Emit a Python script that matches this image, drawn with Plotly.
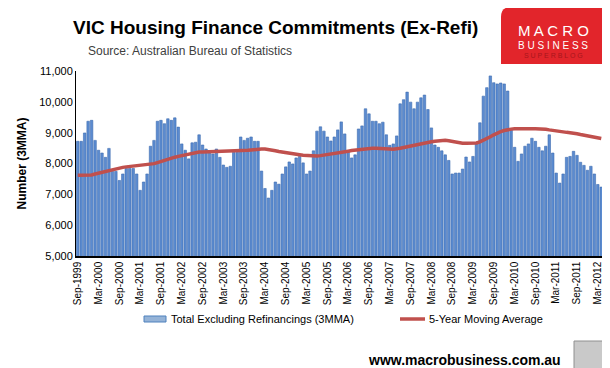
import plotly.graph_objects as go
import pandas as pd

# ---- data ----
months = pd.date_range("1999-09-01", periods=152, freq="MS").strftime("%b-%Y").tolist()

tick_labels = ["Sep-1999", "Mar-2000", "Sep-2000", "Mar-2001", "Sep-2001", "Mar-2002",
               "Sep-2002", "Mar-2003", "Sep-2003", "Mar-2004", "Sep-2004", "Mar-2005",
               "Sep-2005", "Mar-2006", "Sep-2006", "Mar-2007", "Sep-2007", "Mar-2008",
               "Sep-2008", "Mar-2009", "Sep-2009", "Mar-2010", "Sep-2010", "Mar-2011",
               "Sep-2011", "Mar-2012"]

total_ex_refi = [
    8720, 8720, 8990, 9370, 9400, 8750, 8430, 8340, 8200, 8490,
    7745, 7745, 7450, 7660, 7840, 7840, 7840, 7660, 7130, 7400,
    7660, 8560, 8750, 9370, 9400, 9290, 9450, 9400, 9480, 9180,
    8635, 8430, 8150, 8670, 8690, 8930, 8600, 8470, 8365, 8310,
    8470, 8200, 7950, 7875, 7910, 8365, 8365, 8860, 8750, 8820,
    8860, 8720, 8720, 7755, 7190, 6880, 7130, 7400, 7330, 7660,
    7890, 8050, 7985, 8180, 8230, 8020, 7660, 7755, 8410, 9050,
    9190, 9050, 8860, 8730, 8860, 9090, 9350, 8960, 8410, 8180,
    8280, 9120, 9220, 9775, 9610, 9370, 9370, 9290, 9340, 8930,
    8590, 8635, 8895, 9935, 10070, 10315, 9990, 9775, 9990, 10130,
    10220, 9750, 9155, 8600, 8525, 8410, 8280, 8100, 7660, 7690,
    7690, 7820, 8210, 8050, 8230, 8635, 9320, 10185, 10460, 10840,
    10620, 10580, 10610, 10580, 10350, 9100, 8525, 8070, 8310, 8560,
    8635, 8820, 8720, 8525, 8410, 8560, 8930, 8340, 7690, 7365,
    7660, 8200, 8230, 8395, 8265, 8040, 7940, 7780, 7910, 7660,
    7320, 7235,
]

ma_5yr = [
    7615, 7615, 7615, 7618, 7630, 7660, 7690, 7720, 7750, 7785,
    7810, 7830, 7855, 7875, 7890, 7900, 7910, 7920, 7930, 7945,
    7960, 7975, 7995, 8030, 8070, 8105, 8140, 8175, 8205, 8230,
    8255, 8280, 8310, 8335, 8355, 8370, 8375, 8378, 8385, 8392,
    8395, 8395, 8395, 8395, 8395, 8395, 8398, 8405, 8415, 8428,
    8440, 8455, 8468, 8472, 8470, 8460, 8440, 8415, 8390, 8368,
    8345, 8330, 8315, 8300, 8285, 8270, 8258, 8245, 8235, 8240,
    8255, 8270, 8290, 8310, 8335, 8350, 8370, 8385, 8400, 8420,
    8435, 8450, 8465, 8478, 8490, 8495, 8495, 8495, 8495, 8490,
    8470, 8460, 8470, 8495, 8520, 8545, 8570, 8595, 8620, 8650,
    8670, 8690, 8705, 8720, 8735, 8750, 8755, 8740, 8715, 8690,
    8670, 8660, 8655, 8655, 8660, 8665, 8700, 8745, 8805, 8865,
    8930, 8990, 9035, 9070, 9100, 9115, 9125, 9130, 9135, 9135,
    9130, 9125, 9125, 9125, 9120, 9110, 9090, 9070, 9055, 9040,
    9025, 9010, 9000, 8990, 8965, 8940, 8915, 8895, 8875, 8860,
    8835, 8810,
]

series_names = ["Total Excluding Refinancings (3MMA)", "5-Year Moving Average"]

FONT = "Liberation Sans, Arial, sans-serif"
BAR_COLOR = "#5b8bd0"
BAR_EDGE = "#3e6cb0"
LINE_COLOR = "#c0504d"

fig = go.Figure()
fig.add_trace(go.Bar(
    x=months, y=total_ex_refi, name=series_names[0],
    marker=dict(color=BAR_COLOR, line=dict(color=BAR_EDGE, width=0.6)),
))
fig.add_trace(go.Scatter(
    x=months, y=ma_5yr, mode="lines", name=series_names[1],
    line=dict(color=LINE_COLOR, width=3.5),
))

# plot area: x 68..595, y 63..248 px  -> helpers converting page px to paper fractions
def px(xp):
    return (xp - 68) / 527.0

def py(yp):
    return (248 - yp) / 185.0

logo_path = ("M {a},{b} L {a},{c} Q {a},{d} {e},{d} L {f},{d} L {f},{b} Z"
             .format(a=px(493), b=py(56), c=py(9), d=py(-1), e=px(503), f=px(612)))

fig.update_layout(
    width=610, height=368,
    margin=dict(l=68, r=15, t=63, b=120),
    paper_bgcolor="white", plot_bgcolor="white",
    font=dict(family=FONT, color="black", size=11),
    bargap=0.28,
    showlegend=False,
    xaxis=dict(type="category", tickmode="array", tickvals=tick_labels, ticktext=tick_labels,
               tickangle=-90, tickfont=dict(size=10, family=FONT), showline=True,
               linecolor="black", linewidth=1.5, ticks="", showgrid=False, zeroline=False),
    yaxis=dict(range=[5000, 11000], dtick=1000, tickformat=",", showline=True,
               linecolor="black", linewidth=1, ticks="", showgrid=False, zeroline=False,
               tickfont=dict(size=11, family=FONT),
               title=dict(text="<b>Number (3MMA)</b>", font=dict(size=12, family=FONT), standoff=9)),
    shapes=[
        # Macro Business badge
        dict(type="path", xref="paper", yref="paper", path=logo_path,
             fillcolor="#e2252b", line=dict(width=0), layer="above"),
        # legend swatches
        dict(type="rect", xref="paper", yref="paper", x0=px(136), x1=px(158), y0=py(314), y1=py(308),
             fillcolor="#95b3d7", line=dict(color="#4f81bd", width=1), layer="above"),
        dict(type="line", xref="paper", yref="paper", x0=px(392), x1=px(417), y0=py(311), y1=py(311),
             line=dict(color=LINE_COLOR, width=3.5), layer="above"),
        # wolf badge placeholder
        dict(type="rect", xref="paper", yref="paper", x0=px(566), x1=px(597), y0=py(364), y1=py(333),
             fillcolor="#c9c9c9", line=dict(color="#909090", width=1), layer="above"),
    ],
    annotations=[
        dict(text="<b>VIC Housing Finance Commitments (Ex-Refi)</b>", xref="paper", yref="paper",
             x=px(267), y=py(19), xanchor="center", yanchor="middle", showarrow=False,
             font=dict(size=19, family=FONT, color="black")),
        dict(text="Source: Australian Bureau of Statistics", xref="paper", yref="paper",
             x=px(78), y=py(43), xanchor="left", yanchor="middle", showarrow=False,
             font=dict(size=12, family=FONT, color="#404040")),
        dict(text="M A C R O", xref="paper", yref="paper",
             x=px(545), y=py(22), xanchor="center", yanchor="middle", showarrow=False,
             font=dict(size=15, family=FONT, color="white")),
        dict(text="B U S I N E S S", xref="paper", yref="paper",
             x=px(545), y=py(37), xanchor="center", yanchor="middle", showarrow=False,
             font=dict(size=10, family=FONT, color="white")),
        dict(text="S U P E R B L O G", xref="paper", yref="paper",
             x=px(545), y=py(47), xanchor="center", yanchor="middle", showarrow=False,
             font=dict(size=7, family=FONT, color="#a8161c")),
        # legend labels
        dict(text=series_names[0], xref="paper", yref="paper",
             x=px(161), y=py(311), xanchor="left", yanchor="middle", showarrow=False,
             font=dict(size=11, family=FONT, color="black")),
        dict(text=series_names[1], xref="paper", yref="paper",
             x=px(419), y=py(311), xanchor="left", yanchor="middle", showarrow=False,
             font=dict(size=11, family=FONT, color="black")),
        dict(text="<b>www.macrobusiness.com.au</b>", xref="paper", yref="paper",
             x=px(358), y=py(352), xanchor="left", yanchor="middle", showarrow=False,
             font=dict(size=14, family=FONT, color="black")),
    ],
)

fig.write_html("out.html")
